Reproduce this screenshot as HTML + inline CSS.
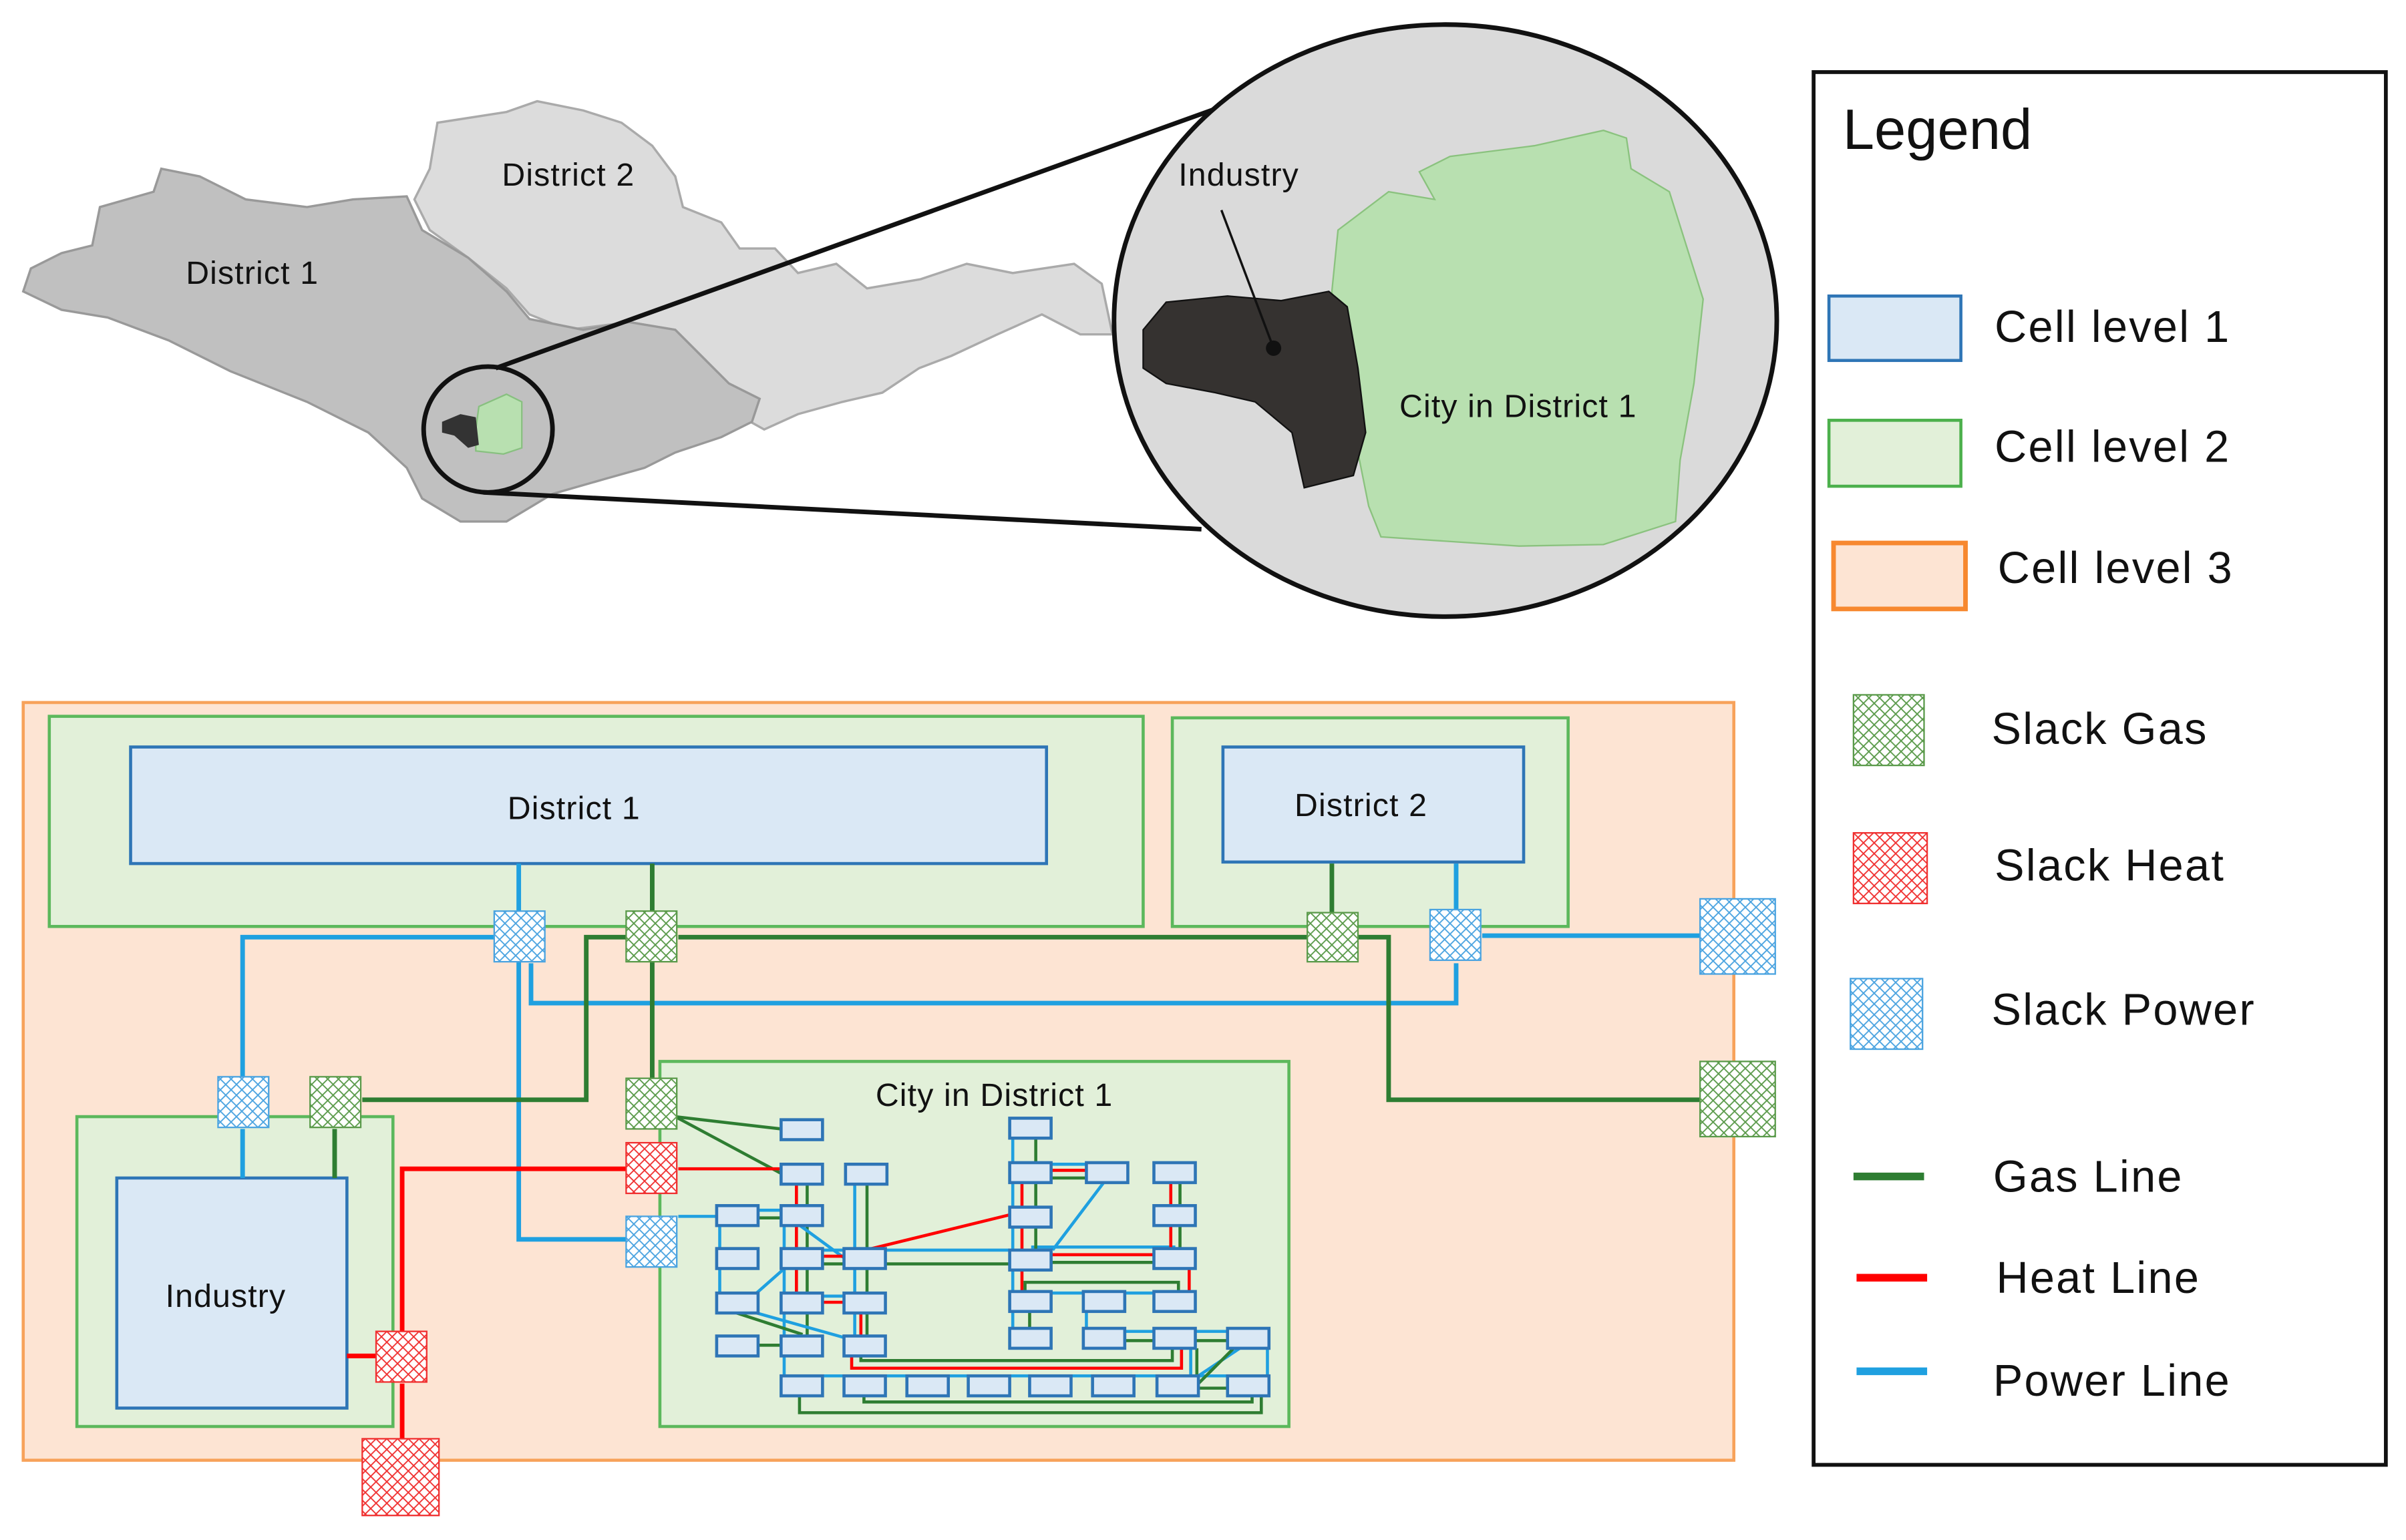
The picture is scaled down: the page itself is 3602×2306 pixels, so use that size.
<!DOCTYPE html>
<html><head><meta charset="utf-8"><style>
html,body{margin:0;padding:0;background:#fff;}
svg{display:block;}
text{font-family:"Liberation Sans",sans-serif;fill:#111;}
</style></head><body>
<svg width="3602" height="2306" viewBox="0 0 1568 1004" xmlns="http://www.w3.org/2000/svg">
<defs>
<pattern id="pg" width="7" height="7" patternUnits="userSpaceOnUse"><rect width="7" height="7" fill="#fff"/><path d="M0 0L7 7M7 0L0 7" stroke="#5a9a4a" stroke-width="0.8"/></pattern>
<pattern id="ph" width="7" height="7" patternUnits="userSpaceOnUse"><rect width="7" height="7" fill="#fff"/><path d="M0 0L7 7M7 0L0 7" stroke="#f03030" stroke-width="0.8"/></pattern>
<pattern id="pp" width="7" height="7" patternUnits="userSpaceOnUse"><rect width="7" height="7" fill="#fff"/><path d="M0 0L7 7M7 0L0 7" stroke="#4aa3e0" stroke-width="0.8"/></pattern>
</defs>

<!-- MAP -->
<polygon fill="#dcdcdc" stroke="#aaa" stroke-width="1.5" points="285,80 330,73 350,66 380,72 405,80 425,95 440,115 445,135 470,145 482,162 505,162 520,178 545,172 565,188 600,182 630,172 660,178 700,172 718,185 725,218 704,218 679,205 650,218 620,232 599,240 575,256 549,262 520,270 498,280 480,270 460,235 440,215 410,210 370,215 345,205 330,188 305,168 280,150 270,130 280,110"/>
<polygon fill="#c0c0c0" stroke="#999" stroke-width="1.5" points="65,135 100,125 105,110 130,115 160,130 200,135 230,130 265,128 275,150 305,168 330,190 345,208 380,215 410,210 440,215 460,235 475,250 495,260 490,275 470,285 440,295 420,305 395,312 360,322 330,340 300,340 275,325 265,305 240,282 200,262 150,242 110,222 70,207 40,202 15,190 20,175 40,165 60,160"/>
<polygon fill="#b8e0b0" stroke="#88c080" points="312,265 330,257 340,262 340,292 328,296 310,294 310,280"/>
<polygon fill="#333" points="288,275 300,270 310,272 312,290 305,292 296,284 288,282"/>
<ellipse cx="318" cy="280" rx="42" ry="41" fill="none" stroke="#111" stroke-width="3"/>
<line x1="323" y1="240" x2="792" y2="71" stroke="#111" stroke-width="3"/>
<line x1="315" y1="321" x2="783" y2="345" stroke="#111" stroke-width="3"/>
<ellipse cx="942" cy="209" rx="216" ry="193" fill="#dadada" stroke="#111" stroke-width="3"/>
<polygon fill="#b8e0b0" stroke="#8ac27e" points="872,150 905,125 935,130 925,112 945,102 1000,95 1045,85 1060,90 1063,110 1088,125 1110,195 1104,250 1095,300 1092,340 1045,355 990,356 900,350 892,330 886,300 872,240 868,190"/>
<polygon fill="#353230" stroke="#111" points="745,215 760,197 800,193 835,196 866,190 878,200 885,240 890,282 882,310 850,318 842,282 818,262 792,256 760,250 745,240"/>
<line x1="796" y1="137" x2="830" y2="227" stroke="#111" stroke-width="1.5"/>
<circle cx="830" cy="227" r="5" fill="#111"/>
<text x="327" y="121" font-size="21" letter-spacing="0.5">District 2</text>
<text x="121" y="185" font-size="21" letter-spacing="0.5">District 1</text>
<text x="768" y="121" font-size="21" letter-spacing="0.5">Industry</text>
<text x="912" y="272" font-size="21" letter-spacing="0.5">City in District 1</text>

<!-- LEGEND -->
<rect x="1182" y="47" width="373" height="908" fill="#fff" stroke="#111" stroke-width="2.5"/>
<text x="1201" y="97" font-size="37">Legend</text>
<rect x="1192" y="193" width="86" height="42" fill="#dae8f5" stroke="#2e75b6" stroke-width="2"/>
<rect x="1192" y="274" width="86" height="43" fill="#e2f0d9" stroke="#4cb04c" stroke-width="2"/>
<rect x="1195" y="354" width="86" height="43" fill="#fde4d3" stroke="#f7882f" stroke-width="3"/>
<g font-size="29" letter-spacing="1">
<text x="1300" y="223">Cell level 1</text>
<text x="1300" y="301">Cell level 2</text>
<text x="1302" y="380">Cell level 3</text>
<text x="1298" y="485">Slack Gas</text>
<text x="1300" y="574">Slack Heat</text>
<text x="1298" y="668">Slack Power</text>
<text x="1299" y="777">Gas Line</text>
<text x="1301" y="843">Heat Line</text>
<text x="1299" y="910">Power Line</text>
</g>
<rect x="1208" y="453" width="46" height="46" fill="url(#pg)" stroke="#5a9a4a"/>
<rect x="1208" y="543" width="48" height="46" fill="url(#ph)" stroke="#f03030"/>
<rect x="1206" y="638" width="47" height="46" fill="url(#pp)" stroke="#4aa3e0"/>
<line x1="1208" y1="767" x2="1254" y2="767" stroke="#2e7d32" stroke-width="5"/>
<line x1="1210" y1="833" x2="1256" y2="833" stroke="#ff0000" stroke-width="5"/>
<line x1="1210" y1="894" x2="1256" y2="894" stroke="#1fa0e0" stroke-width="5"/>

<!-- BOTTOM DIAGRAM -->
<rect x="15" y="458" width="1115" height="494" fill="#fde4d3" stroke="#f7a25a" stroke-width="2"/>
<rect x="32" y="467" width="713" height="137" fill="#e2f0d9" stroke="#5cb85c" stroke-width="2"/>
<rect x="85" y="487" width="597" height="76" fill="#dae8f5" stroke="#2e75b6" stroke-width="2"/>
<text x="374" y="534" font-size="21" text-anchor="middle" letter-spacing="0.5">District 1</text>
<rect x="764" y="468" width="258" height="136" fill="#e2f0d9" stroke="#5cb85c" stroke-width="2"/>
<rect x="797" y="487" width="196" height="75" fill="#dae8f5" stroke="#2e75b6" stroke-width="2"/>
<text x="887" y="532" font-size="21" text-anchor="middle" letter-spacing="0.5">District 2</text>
<rect x="50" y="728" width="206" height="202" fill="#e2f0d9" stroke="#5cb85c" stroke-width="2"/>
<rect x="76" y="768" width="150" height="150" fill="#dae8f5" stroke="#2e75b6" stroke-width="2"/>
<text x="147" y="852" font-size="21" text-anchor="middle" letter-spacing="0.5">Industry</text>
<rect x="430" y="692" width="410" height="238" fill="#e2f0d9" stroke="#5cb85c" stroke-width="2"/>
<text x="648" y="721" font-size="21" text-anchor="middle" letter-spacing="0.5">City in District 1</text>

<!-- main lines -->
<g fill="none" stroke-width="3">
<polyline stroke="#1fa0e0" points="338,563 338,808 408,808"/>
<polyline stroke="#1fa0e0" points="158,702 158,611 322,611"/>
<polyline stroke="#1fa0e0" points="346,628 346,654 949,654 949,628"/>
<polyline stroke="#1fa0e0" points="949,563 949,593"/>
<polyline stroke="#1fa0e0" points="966,610 1108,610"/>
<polyline stroke="#1fa0e0" points="158,736 158,768"/>
<polyline stroke="#2e7d32" points="425,563 425,703"/>
<polyline stroke="#2e7d32" points="442,611 905,611 905,717 1108,717"/>
<polyline stroke="#2e7d32" points="868,563 868,595"/>
<polyline stroke="#2e7d32" points="408,611 382,611 382,717 236,717"/>
<polyline stroke="#2e7d32" points="218,736 218,768"/>
<polyline stroke="#ff0000" points="262,868 262,762 408,762"/>
<polyline stroke="#ff0000" points="262,902 262,938"/>
<polyline stroke="#ff0000" points="226,884 245,884"/>
</g>

<!-- city internal lines -->
<g fill="none" stroke-width="2">
<line stroke="#2e7d32" x1="440" y1="728" x2="509" y2="736"/>
<line stroke="#2e7d32" x1="440" y1="728" x2="509" y2="765"/>
<line stroke="#ff0000" x1="442" y1="762" x2="509" y2="762"/>
<line stroke="#1fa0e0" x1="442" y1="793" x2="467" y2="793"/>
<line stroke="#ff0000" x1="519" y1="765" x2="519" y2="849"/>
<line stroke="#2e7d32" x1="526" y1="765" x2="526" y2="877"/>
<line stroke="#1fa0e0" x1="511" y1="792" x2="511" y2="903"/>
<line stroke="#1fa0e0" x1="557" y1="765" x2="557" y2="877"/>
<line stroke="#2e7d32" x1="565" y1="765" x2="565" y2="877"/>
<line stroke="#ff0000" x1="561" y1="849" x2="561" y2="877"/>
<line stroke="#1fa0e0" x1="480" y1="789" x2="509" y2="789"/>
<line stroke="#2e7d32" x1="480" y1="794" x2="509" y2="794"/>
<line stroke="#1fa0e0" x1="469" y1="792" x2="469" y2="849"/>
<line stroke="#1fa0e0" x1="520" y1="798" x2="550" y2="820"/>
<line stroke="#ff0000" x1="523" y1="819" x2="560" y2="819"/>
<line stroke="#2e7d32" x1="523" y1="824" x2="560" y2="824"/>
<line stroke="#1fa0e0" x1="523" y1="815" x2="560" y2="815"/>
<line stroke="#ff0000" x1="523" y1="849" x2="560" y2="849"/>
<line stroke="#1fa0e0" x1="523" y1="845" x2="560" y2="845"/>
<line stroke="#ff0000" x1="564" y1="815" x2="658" y2="792"/>
<line stroke="#1fa0e0" x1="564" y1="815" x2="658" y2="815"/>
<line stroke="#2e7d32" x1="564" y1="824" x2="658" y2="824"/>
<line stroke="#ff0000" x1="672" y1="818" x2="766" y2="818"/>
<line stroke="#2e7d32" x1="672" y1="823" x2="766" y2="823"/>
<line stroke="#1fa0e0" x1="672" y1="813" x2="766" y2="813"/>
<line stroke="#2e7d32" x1="675" y1="736" x2="675" y2="820"/>
<line stroke="#1fa0e0" x1="660" y1="736" x2="660" y2="872"/>
<line stroke="#ff0000" x1="666" y1="765" x2="666" y2="849"/>
<line stroke="#2e7d32" x1="671" y1="849" x2="671" y2="872"/>
<line stroke="#ff0000" x1="672" y1="763" x2="721" y2="763"/>
<line stroke="#2e7d32" x1="672" y1="768" x2="721" y2="768"/>
<line stroke="#1fa0e0" x1="672" y1="759" x2="721" y2="759"/>
<line stroke="#1fa0e0" x1="720" y1="770" x2="686" y2="815"/>
<line stroke="#ff0000" x1="763" y1="765" x2="763" y2="820"/>
<line stroke="#2e7d32" x1="769" y1="765" x2="769" y2="820"/>
<line stroke="#ff0000" x1="775" y1="820" x2="775" y2="849"/>
<polyline stroke="#2e7d32" points="668,849 668,836 768,836 768,845"/>
<line stroke="#1fa0e0" x1="672" y1="843" x2="766" y2="843"/>
<line stroke="#1fa0e0" x1="708" y1="843" x2="708" y2="872"/>
<line stroke="#1fa0e0" x1="721" y1="868" x2="813" y2="868"/>
<line stroke="#2e7d32" x1="721" y1="874" x2="813" y2="874"/>
<line stroke="#1fa0e0" x1="493" y1="843" x2="510" y2="828"/>
<line stroke="#2e7d32" x1="480" y1="856" x2="523" y2="870"/>
<line stroke="#1fa0e0" x1="493" y1="856" x2="550" y2="872"/>
<line stroke="#2e7d32" x1="494" y1="877" x2="509" y2="877"/>
<polyline stroke="#ff0000" points="555,884 555,892 770,892 770,879"/>
<polyline stroke="#2e7d32" points="561,884 561,887 764,887 764,879"/>
<line stroke="#1fa0e0" x1="511" y1="897" x2="813" y2="897"/>
<line stroke="#1fa0e0" x1="776" y1="879" x2="776" y2="897"/>
<line stroke="#2e7d32" x1="780" y1="879" x2="780" y2="897"/>
<line stroke="#1fa0e0" x1="808" y1="879" x2="781" y2="897"/>
<line stroke="#2e7d32" x1="804" y1="879" x2="781" y2="902"/>
<line stroke="#2e7d32" x1="781" y1="905" x2="800" y2="905"/>
<line stroke="#1fa0e0" x1="826" y1="872" x2="826" y2="897"/>
<polyline stroke="#2e7d32" points="563,910 563,914 816,914 816,910"/>
<polyline stroke="#2e7d32" points="521,910 521,921 822,921 822,910"/>
</g>

<g fill="#dae8f5" stroke="#2e75b6" stroke-width="2">
<rect x="509" y="730" width="27" height="13"/><rect x="658" y="729" width="27" height="13"/>
<rect x="509" y="759" width="27" height="13"/><rect x="551" y="759" width="27" height="13"/><rect x="658" y="758" width="27" height="13"/><rect x="708" y="758" width="27" height="13"/><rect x="752" y="758" width="27" height="13"/>
<rect x="467" y="786" width="27" height="13"/><rect x="509" y="786" width="27" height="13"/><rect x="658" y="787" width="27" height="13"/><rect x="752" y="786" width="27" height="13"/>
<rect x="467" y="814" width="27" height="13"/><rect x="509" y="814" width="27" height="13"/><rect x="550" y="814" width="27" height="13"/><rect x="658" y="815" width="27" height="13"/><rect x="752" y="814" width="27" height="13"/>
<rect x="467" y="843" width="27" height="13"/><rect x="509" y="843" width="27" height="13"/><rect x="550" y="843" width="27" height="13"/><rect x="658" y="842" width="27" height="13"/><rect x="706" y="842" width="27" height="13"/><rect x="752" y="842" width="27" height="13"/>
<rect x="467" y="871" width="27" height="13"/><rect x="509" y="871" width="27" height="13"/><rect x="550" y="871" width="27" height="13"/><rect x="658" y="866" width="27" height="13"/><rect x="706" y="866" width="27" height="13"/><rect x="752" y="866" width="27" height="13"/><rect x="800" y="866" width="27" height="13"/>
<rect x="509" y="897" width="27" height="13"/><rect x="550" y="897" width="27" height="13"/><rect x="591" y="897" width="27" height="13"/><rect x="631" y="897" width="27" height="13"/><rect x="671" y="897" width="27" height="13"/><rect x="712" y="897" width="27" height="13"/><rect x="754" y="897" width="27" height="13"/><rect x="800" y="897" width="27" height="13"/>
</g>

<rect x="322" y="594" width="33" height="33" fill="url(#pp)" stroke="#4aa3e0"/>
<rect x="408" y="594" width="33" height="33" fill="url(#pg)" stroke="#5a9a4a"/>
<rect x="852" y="595" width="33" height="32" fill="url(#pg)" stroke="#5a9a4a"/>
<rect x="932" y="593" width="33" height="33" fill="url(#pp)" stroke="#4aa3e0"/>
<rect x="1108" y="586" width="49" height="49" fill="url(#pp)" stroke="#4aa3e0"/>
<rect x="1108" y="692" width="49" height="49" fill="url(#pg)" stroke="#5a9a4a"/>
<rect x="142" y="702" width="33" height="33" fill="url(#pp)" stroke="#4aa3e0"/>
<rect x="202" y="702" width="33" height="33" fill="url(#pg)" stroke="#5a9a4a"/>
<rect x="408" y="703" width="33" height="33" fill="url(#pg)" stroke="#5a9a4a"/>
<rect x="408" y="745" width="33" height="33" fill="url(#ph)" stroke="#f03030"/>
<rect x="408" y="793" width="33" height="33" fill="url(#pp)" stroke="#4aa3e0"/>
<rect x="245" y="868" width="33" height="33" fill="url(#ph)" stroke="#f03030"/>
<rect x="236" y="938" width="50" height="50" fill="url(#ph)" stroke="#f03030"/>
</svg>
</body></html>
